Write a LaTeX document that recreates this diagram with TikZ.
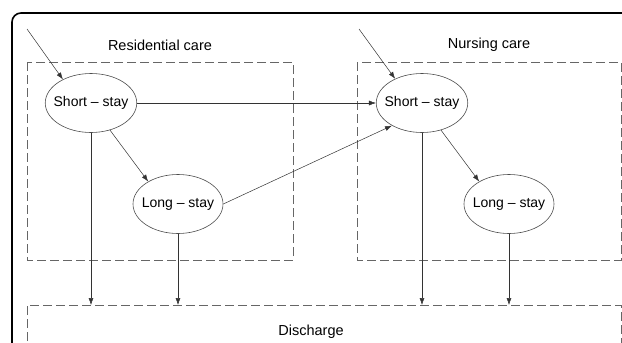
\documentclass[tikz,border=0pt]{standalone}
\usepackage{fontspec}
\setmainfont{Liberation Sans}
\usepackage{tikz}
\usetikzlibrary{positioning, shapes.geometric}
\usetikzlibrary{calc, arrows.meta}
\tikzstyle{stay} = [ellipse, draw=black!70, line width=0.6pt, minimum width=90pt, minimum height=59pt, inner xsep=-5pt, inner ysep=0pt, font=\fontsize{14}{16}\selectfont]
\tikzstyle{carebox} = [draw=black!60, dash pattern=on 9pt off 4pt, line width=0.9pt]
\tikzstyle{title} = [font=\fontsize{14.5}{17}\selectfont]
\tikzstyle{arrow} = [draw=black!80, line width=0.5pt, ->, >={Latex[length=7pt,width=5pt]}]

\begin{document}
\begin{tikzpicture}[x=1pt, y=-1pt]
		\useasboundingbox (0,0) rectangle (622,343);
		\draw [line width=1.6pt, rounded corners=9pt] (12,380) -- (12,13) -- (660,13);
		\draw [carebox] (27,62) rectangle (293,260);
		\draw [carebox] (357,62) rectangle (621,260);
		\draw [carebox] (27,380) -- (27,305) -- (621,305) -- (621,380);
		\node (rcare) [title] at (160,45) {Residential care};
		\node (ncare) [title] at (489,45) {Nursing care};
		\node (dis) [title] at (311,332) {Discharge};
		\node (rshort) [stay] at (91,103) {Short – stay};
		\node (rlong) [stay] at (178,204) {Long – stay};
		\node (nshort) [stay] at (422,103) {Short – stay};
		\node (nlong) [stay] at (509,204) {Long – stay};
		\coordinate (rin) at (27,29);
		\coordinate (nin) at (359,29);
		\coordinate (dtop) at (0,305);
		\draw [arrow](rin) -- (rshort.140);
		\draw [arrow](nin) -- (nshort.138);
		\draw [arrow](rshort.east) -- (nshort.west);
		\draw [arrow](rshort.305) -- (rlong.143);
		\draw [arrow](nshort.305) -- (nlong.143);
		\draw [arrow](rlong.east) -- (nshort.217);
		\draw [arrow](rshort.south) -- (rshort.south |- dtop);
		\draw [arrow](rlong.south) -- (rlong.south |- dtop);
		\draw [arrow](nshort.south) -- (nshort.south |- dtop);
		\draw [arrow](nlong.south) -- (nlong.south |- dtop);
	\end{tikzpicture}
\end{document}
